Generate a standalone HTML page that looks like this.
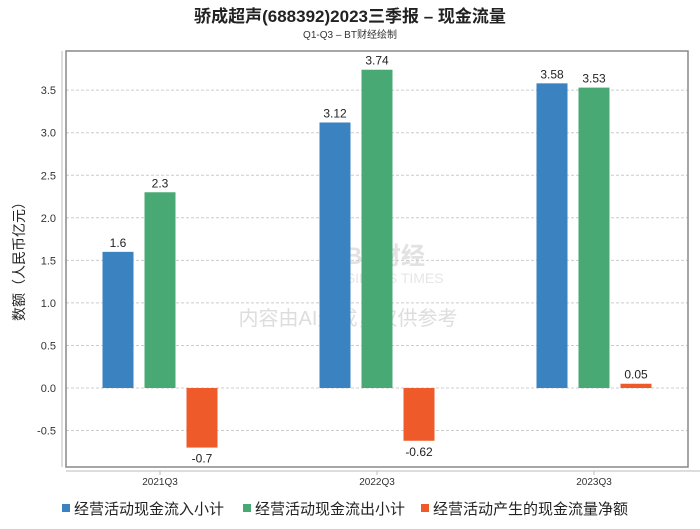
<!DOCTYPE html>
<html><head><meta charset="utf-8"><style>
body{margin:0;background:#fff;width:700px;height:524px;overflow:hidden;font-family:"Liberation Sans","Noto Sans CJK SC",sans-serif}
</style></head><body>
<svg id="c" width="700" height="524" xmlns="http://www.w3.org/2000/svg" font-family="Liberation Sans, Noto Sans CJK SC, sans-serif">
<text x="350" y="22" text-anchor="middle" font-size="17" font-weight="bold" fill="#222">骄成超声(688392)2023三季报 – 现金流量</text>
<text x="350" y="38" text-anchor="middle" font-size="10" fill="#333">Q1-Q3 – BT财经绘制</text>
<text x="385" y="264" text-anchor="middle" font-size="24" fill="#e2e2e2" font-weight="bold">BT财经</text>
<text x="385" y="283" text-anchor="middle" font-size="14" fill="#e6e6e6">BUSINESS TIMES</text>
<text x="348" y="325" text-anchor="middle" font-size="20" fill="#ddd">内容由AI生成，仅供参考</text>
<text transform="translate(24,258) rotate(-90)" text-anchor="middle" font-size="14" fill="#222">数额（人民币亿元）</text>
<g id="grid"></g><g id="bars"></g>
<rect x="66" y="51" width="622" height="416" fill="none" stroke="#888" stroke-width="1.5"/>
<line x1="66" y1="471" x2="700" y2="471" stroke="#bbb"/>
<line x1="62" y1="51" x2="62" y2="467" stroke="#bbb"/>
<g id="legend"></g>
</svg>
<script>
const categories=["2021Q3","2022Q3","2023Q3"];
const inflow=[1.6,3.12,3.58];
const outflow=[2.3,3.74,3.53];
const net=[-0.7,-0.62,0.05];
const seriesNames=["经营活动现金流入小计","经营活动现金流出小计","经营活动产生的现金流量净额"];
const ticks=[-0.5,0,0.5,1,1.5,2,2.5,3,3.5];
const colors=["#3a82c0","#48a974","#ef5a2a"];
const NS="http://www.w3.org/2000/svg";
const y=v=>388-v*85.1;
const x=i=>160+i*217;
function mk(t,a,p){const e=document.createElementNS(NS,t);for(const k in a)e.setAttribute(k,a[k]);p.appendChild(e);return e;}
const g=document.getElementById('grid'),b=document.getElementById('bars'),lg=document.getElementById('legend');
ticks.forEach(t=>{
 const l=mk('line',{x1:66,x2:688,y1:y(t),y2:y(t),stroke:'#ccc','stroke-dasharray':'3,2'},g);
 
 
 const tx=mk('text',{x:56,y:y(t)+4,'text-anchor':'end','font-size':11,fill:'#333'},g);
 tx.textContent=t.toFixed(1);
 
 
});
categories.forEach((c,i)=>{
 const tx=mk('text',{x:x(i),y:485,'text-anchor':'middle','font-size':10,fill:'#333'},g);
 tx.textContent=c;
 
 
 mk('line',{x1:x(i),x2:x(i),y1:471,y2:475,stroke:'#bbb'},g);
});
[inflow,outflow,net].forEach((s,si)=>{
 s.forEach((v,i)=>{
  const cx=x(i)+(si-1)*42;
  const r=mk('rect',{x:cx-15.5,width:31,y:Math.min(y(v),y(0)),height:Math.abs(y(v)-y(0)),fill:colors[si]},b);
  
  
  const t=mk('text',{x:cx,y:v>=0?y(v)-5:y(v)+15,'text-anchor':'middle','font-size':12,fill:'#222'},b);
  t.textContent=String(v);
  
  
 });
});
const lx=[62,243,421];
seriesNames.forEach((n,i)=>{
 const r=mk('rect',{x:lx[i],y:504,width:8,height:8,fill:colors[i]},lg);
 
 
 const t=mk('text',{x:lx[i]+12,y:514,'font-size':15,fill:'#222'},lg);
 t.textContent=n;
 
 
});
</script>
</body></html>
